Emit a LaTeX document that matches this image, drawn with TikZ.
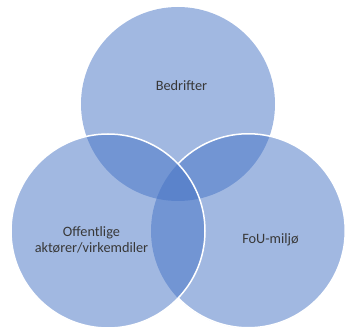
\documentclass[tikz,border=0pt]{standalone}
\usepackage{fontspec}
\setmainfont{Carlito}
\usetikzlibrary{positioning}
\definecolor{vennblue}{HTML}{4472C4}

\begin{document}
\begin{tikzpicture}[x=1pt, y=1pt,
  venn/.style={circle, minimum size=194pt, inner sep=0pt, outer sep=0pt, fill=vennblue, fill opacity=0.5},
  rim/.style={draw=white, line width=1.5pt},
  lbl/.style={text=black!78, font=\fontsize{14.3}{16.5}\selectfont, align=center}]
  \useasboundingbox (0,0) rectangle (346,329);

  \node[venn] (bedrifter) at (178,225) {};
  \node[venn] (fou) at (248,98) {};
  \node[venn, rim] (offentlige) at (108,98) {};

  % white edge of the right circle, outside the left one
  \draw[rim] (fou.136.2) arc[start angle=136.2, end angle=-136.2, radius=97pt];

  \node[lbl] (tb) at (181.5,243) {Bedrifter};
  \node[lbl] (to) at (91.5,89) {Offentlige\\aktører/virkemdiler};
  \node[lbl] (tf) at (270.5,89) {FoU-miljø};
\end{tikzpicture}
\end{document}
